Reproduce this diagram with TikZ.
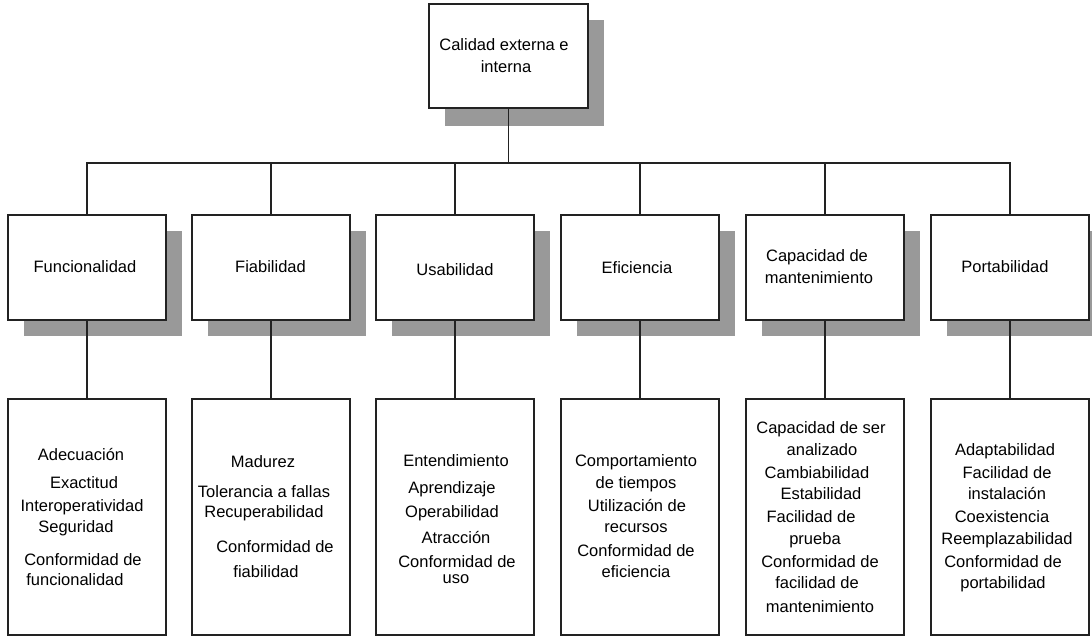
\documentclass[tikz,border=0pt]{standalone}
\usepackage{fontspec}
\setmainfont{Liberation Sans}
\usetikzlibrary{shadows}
\definecolor{shadowgray}{HTML}{999999}
\definecolor{linegray}{HTML}{222222}
\begin{document}
\begin{tikzpicture}[x=1pt,y=-1pt,
  font=\fontsize{16.5}{19}\selectfont,
  box/.style={draw=linegray, line width=1.8pt, fill=white, inner sep=0pt,
    minimum width=158pt, align=center},
  shbox/.style={box, drop shadow={shadow xshift=16pt, shadow yshift=-16pt, fill=shadowgray, opacity=1}},
  midbox/.style={shbox, minimum height=105pt},
  lowbox/.style={box, minimum height=236pt},
  txt/.style={inner sep=0pt, text height=11.5pt, text depth=0pt, anchor=center},
  conn/.style={draw=linegray, line width=1.8pt}
]
\useasboundingbox (0,0) rectangle (1092,636);

% top
\node[shbox, minimum width=159pt, minimum height=104pt,
      drop shadow={shadow xshift=16pt, shadow yshift=-18pt, fill=shadowgray, opacity=1}] (top) at (508.5,56) {};
\node[txt] (top-t1) at (504,45) {Calidad externa e};
\node[txt] (top-t2) at (506,67) {interna};

% middle row
\node[midbox] (m1) at (87,267.5) {};
\node[txt] (m1-t) at (85,267) {Funcionalidad};
\node[midbox] (m2) at (271,267.5) {};
\node[txt] (m2-t) at (270.5,267) {Fiabilidad};
\node[midbox] (m3) at (455,267.5) {};
\node[txt] (m3-t) at (455,270) {Usabilidad};
\node[midbox] (m4) at (640,267.5) {};
\node[txt] (m4-t) at (637,268) {Eficiencia};
\node[midbox] (m5) at (825,267.5) {};
\node[txt] (m5-t1) at (817,256) {Capacidad de};
\node[txt] (m5-t2) at (819,278) {mantenimiento};
\node[midbox] (m6) at (1010,267.5) {};
\node[txt] (m6-t) at (1005,267) {Portabilidad};

% bottom row
\node[lowbox] (b1) at (87,517) {};
\node[lowbox] (b2) at (271,517) {};
\node[lowbox] (b3) at (455,517) {};
\node[lowbox] (b4) at (640,517) {};
\node[lowbox] (b5) at (825,517) {};
\node[lowbox] (b6) at (1010,517) {};

\foreach \t/\x/\y [count=\i] in {Adecuación/81/455, Exactitud/84/483, Interoperatividad/82/506, Seguridad/76/527, Conformidad de/83/560, funcionalidad/75/580}
  \node[txt] (b1-\i) at (\x,\y) {\t};
\foreach \t/\x/\y [count=\i] in {Madurez/263/462, Tolerancia a fallas/264/492, Recuperabilidad/264/512, Conformidad de/275/547, fiabilidad/266/572}
  \node[txt] (b2-\i) at (\x,\y) {\t};
\foreach \t/\x/\y [count=\i] in {Entendimiento/456/461, Aprendizaje/452/488, Operabilidad/452/512, Atracción/456/538, Conformidad de/457/562, uso/456/578}
  \node[txt] (b3-\i) at (\x,\y) {\t};
\foreach \t/\x/\y [count=\i] in {Comportamiento/636/461, de tiempos/636/483, Utilización de/637/506, recursos/636/527, Conformidad de/636/551, eficiencia/636/572}
  \node[txt] (b4-\i) at (\x,\y) {\t};
\foreach \t/\x/\y [count=\i] in {Capacidad de ser/821/428, analizado/822/450, Cambiabilidad/817/473, Estabilidad/821/494, Facilidad de/811/517, prueba/815/539, Conformidad de/820/562, facilidad de/817/583, mantenimiento/820/607}
  \node[txt] (b5-\i) at (\x,\y) {\t};
\foreach \t/\x/\y [count=\i] in {Adaptabilidad/1005/450, Facilidad de/1007/473, instalación/1007/494, Coexistencia/1002/517, Reemplazabilidad/1007/539, Conformidad de/1003/562, portabilidad/1003/583}
  \node[txt] (b6-\i) at (\x,\y) {\t};

% connectors
\coordinate (bus) at (0,163);
\draw[conn] (top.south) -- (top.south |- bus);
\draw[conn] (m1.north) -- (m1.north |- bus) -- (m6.north |- bus) -- (m6.north);
\foreach \k in {2,3,4,5}
  \draw[conn] (m\k.north) -- (m\k.north |- bus);
\foreach \k in {1,...,6}
  \draw[conn] (m\k.south) -- (b\k.north);
\end{tikzpicture}
\end{document}
